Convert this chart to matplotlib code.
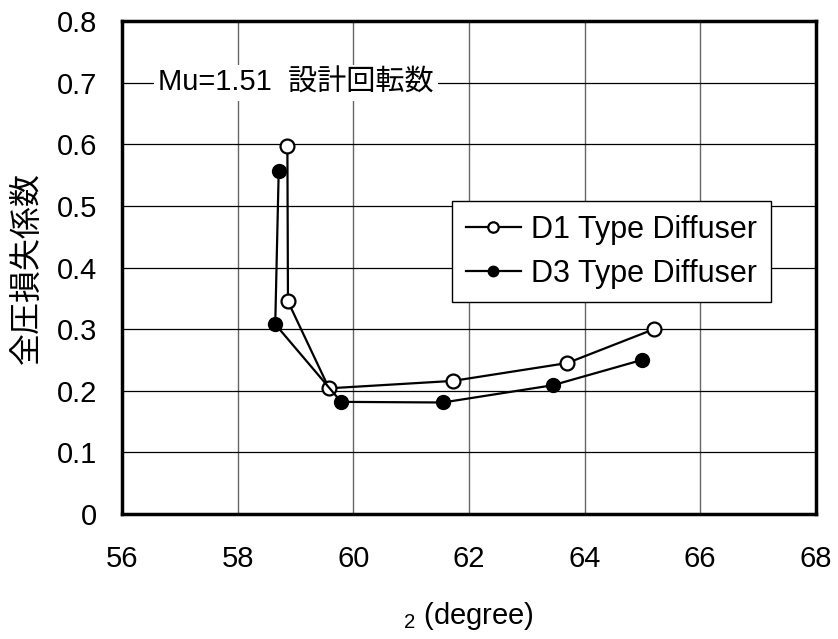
import matplotlib
matplotlib.use('Agg')
import matplotlib.pyplot as plt

plt.rcParams['font.family'] = ['Liberation Sans', 'Noto Sans CJK JP', 'DejaVu Sans']
plt.rcParams['mathtext.fontset'] = 'custom'
plt.rcParams['mathtext.rm'] = 'Liberation Sans'
plt.rcParams['mathtext.it'] = 'Liberation Sans'

# データ
d1_x = [58.86, 58.87, 59.58, 61.72, 63.70, 65.20]
d1_y = [0.598, 0.345, 0.204, 0.216, 0.245, 0.300]
d3_x = [58.71, 58.65, 59.79, 61.55, 63.45, 64.99]
d3_y = [0.557, 0.308, 0.182, 0.181, 0.209, 0.250]

x_ticks = [56, 58, 60, 62, 64, 66, 68]
y_ticks = [0, 0.1, 0.2, 0.3, 0.4, 0.5, 0.6, 0.7, 0.8]
y_tick_labels = ['0', '0.1', '0.2', '0.3', '0.4', '0.5', '0.6', '0.7', '0.8']

fig = plt.figure(figsize=(8.38, 6.39), dpi=100)
ax = fig.add_axes([0.1456, 0.1956, 0.828, 0.7714])

for xv in x_ticks[1:-1]:
    ax.axvline(xv, color='#666666', lw=1.0, zorder=1)
for yv in y_ticks[1:-1]:
    ax.axhline(yv, color='#000000', lw=0.9, zorder=1)

ax.plot(d1_x, d1_y, '-o', color='black', lw=1.6, ms=10,
        mfc='white', mec='black', mew=1.6, label='D1 Type Diffuser', zorder=3)
ax.plot(d3_x, d3_y, '-o', color='black', lw=1.6, ms=10,
        mfc='black', mec='black', label='D3 Type Diffuser', zorder=3)

ax.set_xlim(56, 68)
ax.set_ylim(0, 0.8)
ax.set_xticks(x_ticks)
ax.set_yticks(y_ticks)
ax.set_yticklabels(y_tick_labels)
ax.tick_params(axis='x', labelsize=21, length=0, pad=22)
ax.tick_params(axis='y', labelsize=21, length=0, pad=18)
for s in ax.spines.values():
    s.set_linewidth(2.5)

ax.set_ylabel('全圧損失係数', fontsize=23, labelpad=10)
ax.set_xlabel(r'$_2$ (degree)', fontsize=21, labelpad=20)

ax.text(56.62, 0.7, 'Mu=1.51  設計回転数', fontsize=21, va='center', ha='left',
        bbox=dict(facecolor='white', edgecolor='none', pad=3), zorder=2)

leg = ax.legend(loc='upper left', bbox_to_anchor=(0.4755, 0.635), fontsize=22,
                frameon=True, fancybox=False, edgecolor='black', framealpha=1,
                handlelength=1.8, handletextpad=0.35, borderpad=0.45,
                labelspacing=0.45, markerscale=0.75, borderaxespad=0)
leg.get_frame().set_linewidth(1.0)

plt.savefig('out.png', dpi=100)
